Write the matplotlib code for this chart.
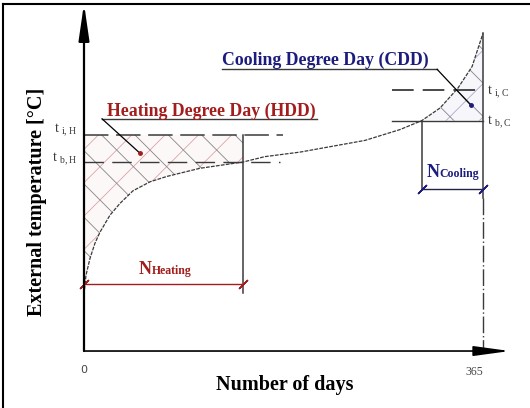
import numpy as np
import matplotlib.pyplot as plt
from matplotlib.lines import Line2D

plt.rcParams['font.family'] = ['Liberation Serif', 'DejaVu Serif']
plt.rcParams['mathtext.fontset'] = 'custom'
plt.rcParams['mathtext.rm'] = 'Liberation Serif'
plt.rcParams['hatch.linewidth'] = 0.6

# duration curve of external temperature (schematic)
days = [0, 1.8, 5.5, 10.1, 14.6, 23.8, 32.9, 44.8, 60.4, 75.9, 106, 145.5,
        165.6, 197.6, 225, 257, 289, 309, 325.7, 342, 355, 365]
temp = [0.3, 2.4, 4.3, 6.0, 7.2, 9.1, 10.4, 11.8, 12.8, 13.4, 14.3, 15.0,
        15.6, 16.1, 16.7, 17.4, 18.6, 19.6, 21.0, 23.2, 25.6, 29.3]

t_iH, t_bH = 18.0, 15.0      # heating: indoor / base temperature
t_iC, t_bC = 23.0, 19.6      # cooling: indoor / base temperature
n_heat = 145.5               # end of heating period
n_cool = 309                 # start of cooling period
year = 365

days = np.array(days)
temp = np.array(temp)

red = '#a31d1d'
blue = '#1c1c7e'
grey = '#3a3a3a'

fig = plt.figure(figsize=(5.3, 4.08), dpi=100)
ax = fig.add_axes([0, 0, 1, 1])
ax.set_xlim(-76.84, 408.0)
ax.set_ylim(-12.33, 33.0)
ax.axis('off')

y0 = -6.0  # level of the day axis
# axes with arrow heads
ax.annotate('', xy=(0, 32.6), xytext=(0, y0),
            arrowprops=dict(arrowstyle='-|>,head_length=22,head_width=3.2',
                            mutation_scale=1, color='black', lw=1.6,
                            shrinkA=0, shrinkB=0))
ax.annotate('', xy=(389.6, y0), xytext=(0, y0),
            arrowprops=dict(arrowstyle='-|>,head_length=22,head_width=3.0',
                            mutation_scale=1, color='black', lw=1.2,
                            shrinkA=0, shrinkB=0))

# heating hatch: between indoor temperature and curve
h = days <= n_heat
ax.fill_between(days[h], temp[h], t_iH, facecolor='#fdf8f8', edgecolor='none')
ax.fill_between(days[h], temp[h], t_iH, facecolor='none', edgecolor='#dba5a5',
                hatch='/', lw=0)
ax.fill_between(days[h], temp[h], t_iH, facecolor='none', edgecolor='#858585',
                hatch='\\', lw=0)

# cooling hatch: above base temperature, under the curve
c = days >= n_cool
ax.fill_between(days[c], t_bC, temp[c], facecolor='#f7f7fb', edgecolor='none')
ax.fill_between(days[c], t_bC, temp[c], facecolor='none', edgecolor='#a8aac8',
                hatch='/', lw=0)
ax.fill_between(days[c], t_bC, temp[c], facecolor='none', edgecolor='#858585',
                hatch='\\', lw=0)

# the curve
ax.plot(days, temp, color=grey, lw=0.9, ls=(0, (3, 1)))

# temperature levels
ax.plot([0, 182], [t_iH, t_iH], color=grey, lw=1.1, dashes=(16, 5))
ax.plot([0, 179], [t_bH, t_bH], color=grey, lw=1.0, dashes=(14, 6))
ax.plot([282, year], [t_iC, t_iC], color=grey, lw=1.3, dashes=(12, 5))
ax.plot([282, year], [t_bC, t_bC], color=grey, lw=1.0)

# period boundaries
ax.plot([n_heat, n_heat], [t_iH, 0.5], color=grey, lw=1.1)
ax.plot([n_cool, n_cool], [t_bC, 11.9], color=grey, lw=1.1)
ax.plot([year, year], [temp[-1], 11.0], color=grey, lw=1.1)
ax.plot([year, year], [11.0, y0], color=grey, lw=1.0, ls=(0, (12, 2, 1, 2)))

# N arrows (dimension lines with slashes)
ax.plot([0, n_heat], [1.45, 1.45], color=red, lw=1.0)
ax.plot([0, n_heat], [1.45, 1.45], ls='none', marker=(2, 2, -45), ms=9,
        mec=red, mew=1.0)
ax.plot([n_cool, year], [11.95, 11.95], color='#222244', lw=1.0)
ax.plot([n_cool, year], [11.95, 11.95], ls='none', marker=(2, 2, -45), ms=9,
        mec=blue, mew=1.0)

# labels of the N arrows
ax.text(62, 2.6, 'N', color=red, fontsize=13, fontweight='bold', ha='right',
        va='baseline')
ax.text(62, 2.6, 'Heating', color=red, fontsize=8.5, fontweight='bold',
        ha='left', va='baseline')
ax.text(325.5, 13.3, 'N', color=blue, fontsize=13, fontweight='bold',
        ha='right', va='baseline')
ax.text(325.5, 13.3, 'Cooling', color=blue, fontsize=8.5, fontweight='bold',
        ha='left', va='baseline')

# degree day titles with leader lines
ax.text(21.5, 20.1, 'Heating Degree Day (HDD)', color=red, fontsize=12.8,
        fontweight='bold', ha='left', va='baseline')
ax.plot([16.5, 213], [19.8, 19.8], color=grey, lw=1.0)
ax.plot([16.5, 51], [19.8, 16.0], color='black', lw=0.9)
ax.plot([51], [16.0], 'o', color=red, ms=2.5)

ax.text(126, 25.75, 'Cooling Degree Day (CDD)', color=blue, fontsize=12.8,
        fontweight='bold', ha='left', va='baseline')
ax.plot([126, 323], [25.3, 25.3], color=grey, lw=1.0)
ax.plot([323, 354], [25.3, 21.3], color='black', lw=0.9)
ax.plot([354], [21.3], 'o', color=blue, ms=2.5)

# temperature level labels
ax.text(-6, t_iH + 0.5, r'$\mathrm{t}_{\ \mathrm{i,H}}$', fontsize=10,
        color=grey, ha='right', va='center')
ax.text(-6, t_bH + 0.3, r'$\mathrm{t}_{\ \mathrm{b,H}}$', fontsize=10,
        color=grey, ha='right', va='center')
ax.text(369, t_iC - 0.3, r'$\mathrm{t}_{\ \mathrm{i,C}}$', fontsize=10,
        color=grey, ha='left', va='center')
ax.text(369, t_bC - 0.2, r'$\mathrm{t}_{\ \mathrm{b,C}}$', fontsize=10,
        color=grey, ha='left', va='center')

# tick labels and axis titles
ax.text(0, -8.1, '0', fontsize=8, family='DejaVu Sans', color='#444444',
        ha='center', va='center')
ax.text(357, -8.3, '365', fontsize=8.5, color='#444444',
        ha='center', va='center')
ax.text(184, -9.8, 'Number of days', fontsize=14.5, fontweight='bold',
        ha='center', va='center')
ax.text(-43, 10.6, 'External temperature [°C]', fontsize=14.5,
        fontweight='bold', rotation=90, ha='center', va='center')

# frame of the picture (only top and left edges are visible)
fig.add_artist(Line2D([0.006, 0.006], [0, 0.99], color='black', lw=1.5,
                      transform=fig.transFigure))
fig.add_artist(Line2D([0.006, 1], [0.99, 0.99], color='black', lw=1.5,
                      transform=fig.transFigure))

fig.savefig('out.png', dpi=100)
